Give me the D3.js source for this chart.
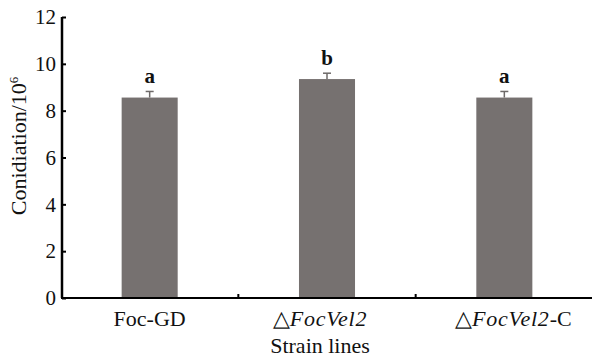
<!DOCTYPE html>
<html>
<head>
<meta charset="utf-8">
<script src="https://cdn.jsdelivr.net/npm/d3@7"></script>
<style>
  body { margin: 0; background: #fff; }
  svg { display: block; }
  text { font-family: "Liberation Serif", "Times New Roman", serif; fill: #111; }
</style>
</head>
<body>
<svg width="592" height="360"></svg>
<script>
// strains and measurements
const strains = ['Foc-GD', 'dVel2', 'dVel2C'];
const conidia = [8.56, 9.35, 8.56];
const errs = [0.26, 0.25, 0.26];
const letters = ['a', 'b', 'a'];
const yTicks = [0, 2, 4, 6, 8, 10, 12];

const svg = d3.select('svg');

const x = d3.scaleBand()
  .domain(strains)
  .range([61, 593])
  .paddingInner(0.684)
  .paddingOuter(0.342);

const y = d3.scaleLinear()
  .domain([0, 12])
  .range([298, 17]);

// bars
svg.selectAll('.bar')
  .data(strains)
  .enter()
  .append('rect')
  .attr('class', 'bar')
  .attr('x', d => x(d))
  .attr('width', x.bandwidth())
  .attr('y', (d, i) => y(conidia[i]))
  .attr('height', (d, i) => y(0) - y(conidia[i]))
  .attr('fill', '#767170');

// error bars (upper only)
const eb = svg.selectAll('.err')
  .data(strains)
  .enter()
  .append('g')
  .attr('class', 'err')
  .attr('stroke', '#6e6a69')
  .attr('stroke-width', 1.5);

eb.append('line')
  .attr('x1', d => x(d) + x.bandwidth() / 2)
  .attr('x2', d => x(d) + x.bandwidth() / 2)
  .attr('y1', (d, i) => y(conidia[i]))
  .attr('y2', (d, i) => y(conidia[i] + errs[i]));

eb.append('line')
  .attr('x1', d => x(d) + x.bandwidth() / 2 - 4)
  .attr('x2', d => x(d) + x.bandwidth() / 2 + 4)
  .attr('y1', (d, i) => y(conidia[i] + errs[i]))
  .attr('y2', (d, i) => y(conidia[i] + errs[i]));

// significance letters
svg.selectAll('.sig')
  .data(strains)
  .enter()
  .append('text')
  .attr('class', 'sig')
  .attr('x', d => x(d) + x.bandwidth() / 2)
  .attr('y', (d, i) => y(conidia[i] + errs[i]) - 8)
  .attr('text-anchor', 'middle')
  .attr('font-size', 21)
  .attr('font-weight', 'bold')
  .text((d, i) => letters[i]);

// y axis
const yAxis = d3.axisLeft(y)
  .tickValues(yTicks)
  .tickSize(-4)
  .tickPadding(6)
  .tickFormat(d3.format('d'));

const gy = svg.append('g')
  .attr('transform', 'translate(62,0)')
  .call(yAxis);
gy.select('.domain').attr('stroke', '#000').attr('stroke-width', 2.5)
  .attr('d', `M0,${y(12)}V${y(0)}`);
gy.selectAll('.tick line').attr('stroke', '#000').attr('stroke-width', 2).attr('x2', 4);
gy.selectAll('.tick text')
  .attr('font-size', 21)
  .attr('font-family', '"Liberation Serif", serif')
  .attr('fill', '#111');

// x axis line + boundary ticks
svg.append('line')
  .attr('x1', 61).attr('x2', 592)
  .attr('y1', y(0)).attr('y2', y(0))
  .attr('stroke', '#000').attr('stroke-width', 2);

svg.selectAll('.xtick')
  .data(strains.slice(1))
  .enter()
  .append('line')
  .attr('class', 'xtick')
  .attr('x1', d => x(d) - x.step() * x.paddingInner() / 2)
  .attr('x2', d => x(d) - x.step() * x.paddingInner() / 2)
  .attr('y1', y(0))
  .attr('y2', y(0) - 4)
  .attr('stroke', '#000')
  .attr('stroke-width', 2);

// x category labels
const labelShift = [0, -7, 9];
const xl = svg.selectAll('.xlab')
  .data(strains)
  .enter()
  .append('text')
  .attr('class', 'xlab')
  .attr('x', (d, i) => x(d) + x.bandwidth() / 2 + labelShift[i])
  .attr('y', 326)
  .attr('text-anchor', 'middle')
  .attr('font-size', 22);

xl.filter((d, i) => i === 0).text('Foc-GD');
xl.filter((d, i) => i > 0).each(function (d, i) {
  const t = d3.select(this);
  t.append('tspan').text('\u25B3');
  t.append('tspan').attr('font-style', 'italic').attr('letter-spacing', 0.8).text('FocVel2');
  if (i === 1) t.append('tspan').text('-C');
});

// axis titles
svg.append('text')
  .attr('x', 320)
  .attr('y', 353)
  .attr('text-anchor', 'middle')
  .attr('font-size', 22)
  .text('Strain lines');

const yt = svg.append('text')
  .attr('transform', 'translate(26,146) rotate(-90)')
  .attr('text-anchor', 'middle')
  .attr('font-size', 22);
yt.append('tspan').text('Conidiation/10');
yt.append('tspan').attr('font-size', 13).attr('dy', -8).text('6');
</script>
</body>
</html>
